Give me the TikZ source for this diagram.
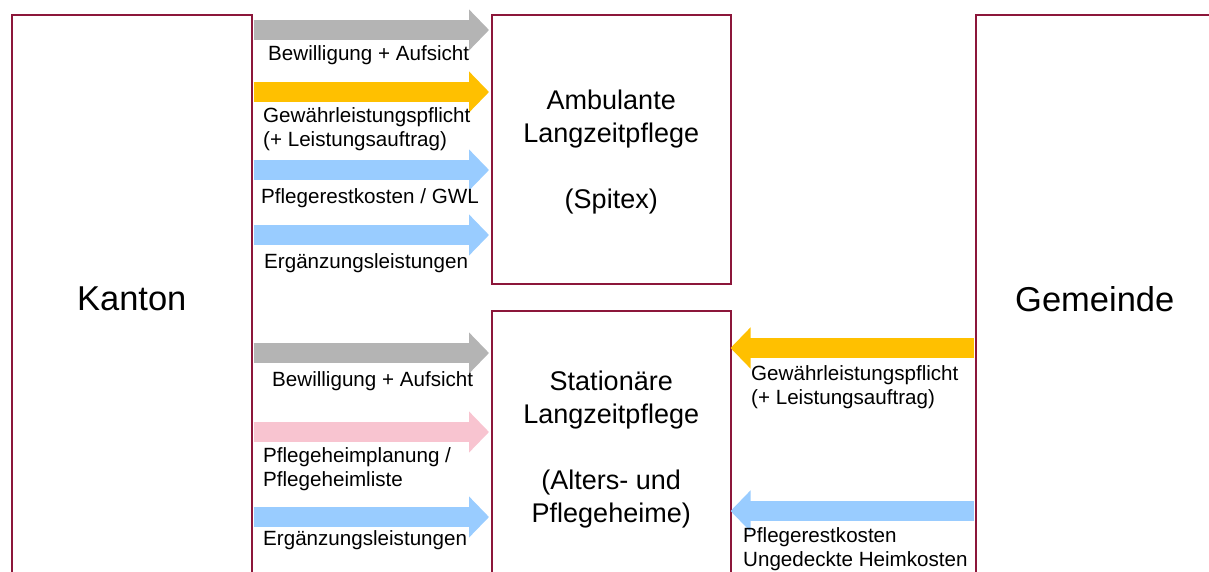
\documentclass[tikz,border=0pt]{standalone}
\usepackage{fontspec}
\setmainfont{Liberation Sans}
\usetikzlibrary{arrows.meta}

\definecolor{rahmen}{RGB}{140,22,58}
\definecolor{grau}{RGB}{180,180,180}
\definecolor{gelb}{RGB}{255,192,0}
\definecolor{hellblau}{RGB}{153,204,255}
\definecolor{rosa}{RGB}{248,196,208}

\tikzset{
  box/.style={draw=rahmen, line width=1.5pt, align=center, inner sep=0pt, anchor=north west,
    font=\fontsize{27}{33}\selectfont},
  bigbox/.style={box, font=\fontsize{34.5}{40}\selectfont},
  flow/.style={line width=20pt, -{Triangle[length=20pt,width=40pt]}, shorten <=1pt, shorten >=2pt},
  flowback/.style={flow, shorten >=-1pt},
  lbl/.style={font=\fontsize{20.6}{24.5}\selectfont, align=left, inner sep=0pt, anchor=north west},
}

\begin{document}
\begin{tikzpicture}[x=1pt,y=-1pt]
\useasboundingbox (0,0) rectangle (1209,571);
\clip (0,0) rectangle (1209,571);

% Kaesten
\node[bigbox, minimum width=240pt, minimum height=568pt] (kanton) at (11,14) {Kanton};
\node[bigbox, minimum width=238pt, minimum height=568pt] (gemeinde) at (975,14) {Gemeinde};
\node[box, minimum width=239pt, minimum height=269pt] (amb) at (491,14)
  {\rule{0pt}{26pt}Ambulante\\Langzeitpflege\\[33pt](Spitex)};
\node[box, minimum width=239pt, minimum height=272pt] (stat) at (491,310)
  {\rule{0pt}{25pt}Station\"are\\Langzeitpflege\\[33pt](Alters- und\\Pflegeheime)};

% Kanton -> ambulant
\draw[flow, grau]     (kanton.east |- 0,30)  -- (amb.west |- 0,30);
\draw[flow, gelb]     (kanton.east |- 0,92)  -- (amb.west |- 0,92);
\draw[flow, hellblau] (kanton.east |- 0,170) -- (amb.west |- 0,170);
\draw[flow, hellblau] (kanton.east |- 0,235) -- (amb.west |- 0,235);
\node[lbl] (a1) at (268,45)  {Bewilligung + Aufsicht};
\node[lbl] (a2) at (263,107) {Gewährleistungspflicht\\(+ Leistungsauftrag)};
\node[lbl] (a3) at (261,188) {Pflegerestkosten / GWL};
\node[lbl] (a4) at (264,253) {Ergänzungsleistungen};

% Kanton -> stationaer
\draw[flow, grau]     (kanton.east |- 0,353) -- (stat.west |- 0,353);
\draw[flow, rosa]     (kanton.east |- 0,432) -- (stat.west |- 0,432);
\draw[flow, hellblau] (kanton.east |- 0,517) -- (stat.west |- 0,517);
\node[lbl] (s1) at (272,371) {Bewilligung + Aufsicht};
\node[lbl] (s2) at (263,447) {Pflegeheimplanung /\\Pflegeheimliste};
\node[lbl] (s3) at (263,530) {Ergänzungsleistungen};

% Gemeinde -> stationaer
\draw[flowback, gelb]     (gemeinde.west |- 0,348) -- (stat.east |- 0,348);
\draw[flowback, hellblau] (gemeinde.west |- 0,511) -- (stat.east |- 0,511);
\node[lbl] (g1) at (751,365) {Gewährleistungspflicht\\(+ Leistungsauftrag)};
\node[lbl] (g2) at (743,527) {Pflegerestkosten\\Ungedeckte Heimkosten};
\end{tikzpicture}
\end{document}
